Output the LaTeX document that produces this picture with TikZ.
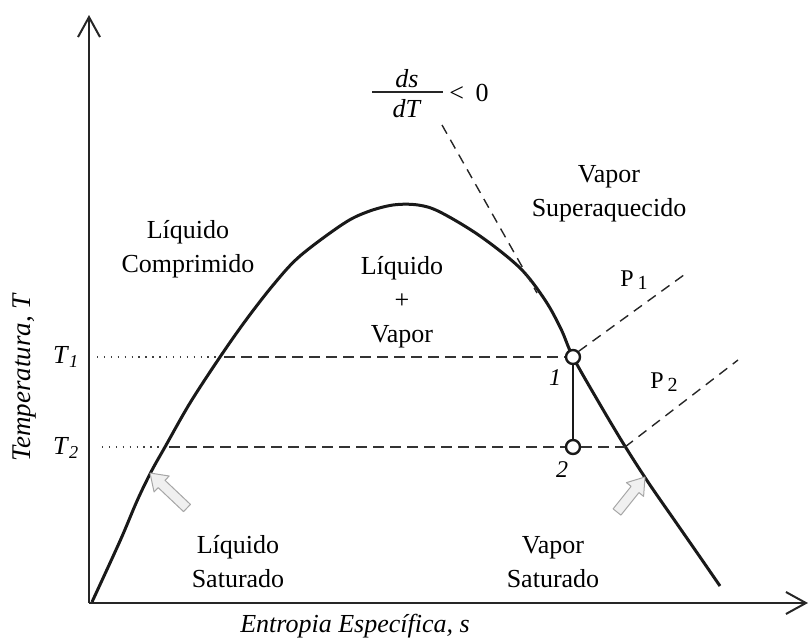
\documentclass[tikz,border=0pt]{standalone}
\usepackage{fontspec}
\setmainfont{Liberation Serif}
\usetikzlibrary{calc,arrows.meta}
\newcommand\grayblockarrow[2]{%
  \coordinate (gah) at ($(#1)!16pt!(#2)$);
  \filldraw[blockarrowstyle] (#1) -- ($(gah)!11pt!90:(#1)$) -- ($(gah)!5pt!90:(#1)$)
    -- ($(#2)!5pt!90:(gah)$) -- ($(#2)!5pt!-90:(gah)$)
    -- ($(gah)!5pt!-90:(#1)$) -- ($(gah)!11pt!-90:(#1)$) -- cycle;}
\begin{document}
\begin{tikzpicture}[x=1pt,y=-1pt,
  lbl/.style={inner sep=0pt, font=\fontsize{26}{34}\selectfont, align=center},
  axisline/.style={line width=2.4pt, draw=black!85, -{Straight Barb[length=20pt,width=22pt,line width=2pt]}},
  domeline/.style={line width=3pt, draw=black!90, line join=round},
  dashline/.style={line width=1.8pt, draw=black!80, dash pattern=on 11pt off 6pt},
  thindash/.style={line width=1.4pt, draw=black!85, dash pattern=on 10pt off 7pt},
  dotline/.style={line width=1.4pt, draw=black!75, dash pattern=on 1.4pt off 5.5pt},
  statept/.style={circle, draw=black!90, line width=2.4pt, fill=white, minimum size=14pt, inner sep=0pt},
  blockarrowstyle/.style={draw=gray!70, fill=gray!12, line width=1pt, line join=round}]
\useasboundingbox (0,0) rectangle (809,640);
% axes
\coordinate (origin) at (89,603);
\coordinate (ytop) at (89,15);
\coordinate (xend) at (808,603);
\draw[axisline] (origin) -- (ytop);
\draw[axisline] (origin) -- (xend);
% dome
\draw[domeline] plot[smooth, tension=0.55] coordinates {
 (92,602) (120,541) (137,501) (151,472) (165,447) (190,403) (220,357) (246,320)
 (274,284) (300,256) (343,224) (367,212) (393,205) (418,205) (440,212) (480,236)
 (520,268) (545,300) (561,329) (573,357) (598,401) (623,443) (648,482) (675,521)
 (700,557) (720,586)};
% isotherm lines
\coordinate (t1a) at (97,357); \coordinate (t1b) at (219,357); \coordinate (t1c) at (224,357);
\coordinate (t2a) at (102,447); \coordinate (t2b) at (160,447); \coordinate (t2c) at (169,447);
\coordinate (t2d) at (625,447);
\draw[dotline] (t1a) -- (t1b);
\draw[dotline] (t2a) -- (t2b);
\node[statept] (p1) at (573,357) {};
\node[statept] (p2) at (573,447) {};
\draw[dashline] (t1c) -- (p1.west);
\draw[dashline] (t2c) -- (p2.west);
\draw[dashline] (p2.east) -- (t2d);
\draw[line width=2.4pt, draw=black!90] (p1.south) -- (p2.north);
% isobars
\coordinate (p1end) at (688,272);
\coordinate (p2end) at (738,360);
\draw[thindash] (p1.north east) -- (p1end);
\draw[thindash] (t2d) -- (p2end);
\node[lbl, font=\fontsize{24}{28}\selectfont] (P1lbl) at (634,280) {P\,\raisebox{-0.3ex}{\fontsize{20}{24}\selectfont 1}};
\node[lbl, font=\fontsize{24}{28}\selectfont] (P2lbl) at (664,382) {P\,\raisebox{-0.3ex}{\fontsize{20}{24}\selectfont 2}};
% point labels
\node[lbl, font=\fontsize{24}{28}\selectfont\itshape] (n1) at (555,378) {1};
\node[lbl, font=\fontsize{24}{28}\selectfont\itshape] (n2) at (562,470) {2};
% temperature labels
\node[lbl] (T1) at (66,357) {\textit{T}\textsubscript{\textit{1}}};
\node[lbl] (T2) at (66,448) {\textit{T}\textsubscript{\textit{2}}};
% ds/dT
\node[lbl, anchor=base] (ds) at (407,87) {\textit{ds}};
\node[lbl, anchor=base] (dT) at (407,117) {\textit{dT}};
\coordinate (barL) at (372,92); \coordinate (barR) at (443,92);
\draw[line width=2pt, draw=black!85] (barL) -- (barR);
\node[lbl] (lt0) at (469,93) {<\hspace{0.45em}0};
\coordinate (tanStart) at (442,125);
\coordinate (tanEnd) at (537,293);
\draw[thindash] (tanStart) -- (tanEnd);
% region labels
\node[lbl] (lc) at (188,249) {Líquido\\Comprimido};
\node[lbl] (lv) at (402,302) {Líquido\\+\\Vapor};
\node[lbl] (vs) at (609,194) {Vapor\\Superaquecido};
\node[lbl] (ls) at (238,562) {Líquido\\Saturado};
\node[lbl] (vsat) at (553,562) {Vapor\\Saturado};
% block arrows
\coordinate (la-tip) at (150,473); \coordinate (la-tail) at (187,508);
\coordinate (ra-tip) at (645,477); \coordinate (ra-tail) at (617,512);
\grayblockarrow{la-tip}{la-tail}
\grayblockarrow{ra-tip}{ra-tail}
% axis labels
\node[lbl, font=\fontsize{26}{34}\selectfont\itshape] (xlab) at (355,626) {Entropia Específica, s};
\node[lbl, font=\fontsize{27}{34}\selectfont\itshape, rotate=90] (ylab) at (25,378) {Temperatura, T};
\end{tikzpicture}
\end{document}
